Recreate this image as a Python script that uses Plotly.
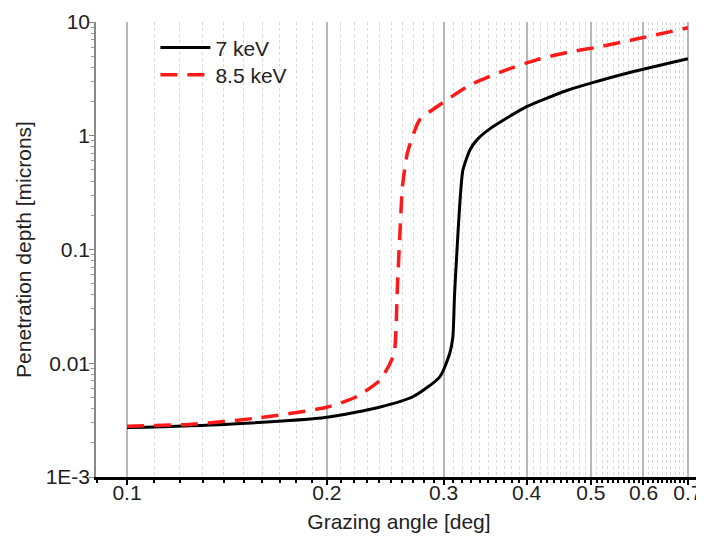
import plotly.graph_objects as go

# 7 keV series
angle_7 = [0.1, 0.14, 0.2, 0.24, 0.27, 0.296, 0.3065, 0.3097, 0.3115, 0.314,
           0.3173, 0.3207, 0.3286, 0.3367, 0.352, 0.4, 0.46, 0.5, 0.578, 0.7]
depth_7 = [0.00272, 0.0029, 0.00335, 0.0041, 0.0051, 0.0076, 0.0123, 0.017, 0.04, 0.093,
           0.257, 0.50, 0.75, 0.92, 1.15, 1.8, 2.5, 2.9, 3.65, 4.75]

# 8.5 keV series
angle_85 = [0.1, 0.124, 0.157, 0.2, 0.222, 0.2405, 0.248, 0.2527, 0.2555, 0.2576,
            0.26, 0.2646, 0.276, 0.293, 0.329, 0.373, 0.414, 0.46, 0.515, 0.578, 0.7]
depth_85 = [0.0028, 0.0029, 0.0033, 0.0041, 0.0051, 0.0071, 0.0095, 0.0123, 0.047, 0.129,
            0.355, 0.71, 1.38, 1.8, 2.8, 3.8, 4.65, 5.4, 6.05, 6.97, 8.9]

x_tick_vals = [0.1, 0.2, 0.3, 0.4, 0.5, 0.6, 0.7]
x_tick_text = ["0.1", "0.2", "0.3", "0.4", "0.5", "0.6", "0.7"]
y_tick_vals = [0.001, 0.01, 0.1, 1, 10]
y_tick_text = ["1E-3", "0.01", "0.1", "1", "10"]

x_minor = [round(d * 0.01 + b, 3) for b in [0.0, 0.1, 0.2, 0.3, 0.4, 0.5, 0.6]
           for d in range(1, 10) if 0.09 <= d * 0.01 + b <= 0.73]
y_minor = [m * 10 ** e for e in range(-3, 1) for m in range(2, 10)]

fig = go.Figure()
fig.add_trace(go.Scatter(x=angle_7, y=depth_7, mode="lines", name="7 keV", legend="legend",
                         line=dict(color="black", width=3, shape="spline", smoothing=0.6)))
fig.add_trace(go.Scatter(x=angle_85, y=depth_85, mode="lines", name="8.5 keV", legend="legend2",
                         line=dict(color="#ff1a1a", width=3.5, dash="17px,10px",
                                   shape="spline", smoothing=0.6)))

font = "Liberation Sans, Arial, sans-serif"
leg_common = dict(x=0.098, xanchor="left", yanchor="middle",
                  bgcolor="rgba(0,0,0,0)", font=dict(size=21, color="#222"),
                  itemwidth=50)
fig.update_layout(
    width=696, height=534,
    margin=dict(l=88, r=2, t=14, b=65),
    paper_bgcolor="white", plot_bgcolor="white",
    font=dict(family=font, size=21, color="#222"),
    showlegend=True,
    legend=dict(y=0.943, **leg_common),
    legend2=dict(y=0.8835, **leg_common),
)
fig.update_xaxes(
    type="log", range=[-1.0467, -0.1337],
    tickvals=x_tick_vals, ticktext=x_tick_text,
    showgrid=True, gridcolor="#b8b8b8", gridwidth=1.5,
    showline=True, linecolor="black", linewidth=3,
    ticks="outside", ticklen=5, tickwidth=2, tickcolor="black",
    ticklabelstandoff=-10,
    tickfont=dict(size=21, color="#222"),
    minor=dict(tickvals=x_minor, ticks="outside", ticklen=3, tickcolor="black",
               tickwidth=1.5, showgrid=True, gridcolor="#d8d8d8", griddash="dot",
               gridwidth=1),
    title=dict(text="Grazing angle [deg]", font=dict(size=21, color="#222"), standoff=12),
    zeroline=False,
)
fig.update_yaxes(
    type="log", range=[-3, 1],
    tickvals=y_tick_vals, ticktext=y_tick_text,
    showgrid=False,
    showline=True, linecolor="#888", linewidth=1.5,
    ticks="outside", ticklen=5, tickwidth=1, tickcolor="#888",
    ticklabelstandoff=-5,
    tickfont=dict(size=21, color="#222"),
    minor=dict(tickvals=y_minor, ticks="outside", ticklen=3, tickcolor="#999",
               tickwidth=1, showgrid=False),
    title=dict(text="Penetration depth [microns]", font=dict(size=21, color="#222"), standoff=8),
    zeroline=False,
)

fig.write_html("out.html")
